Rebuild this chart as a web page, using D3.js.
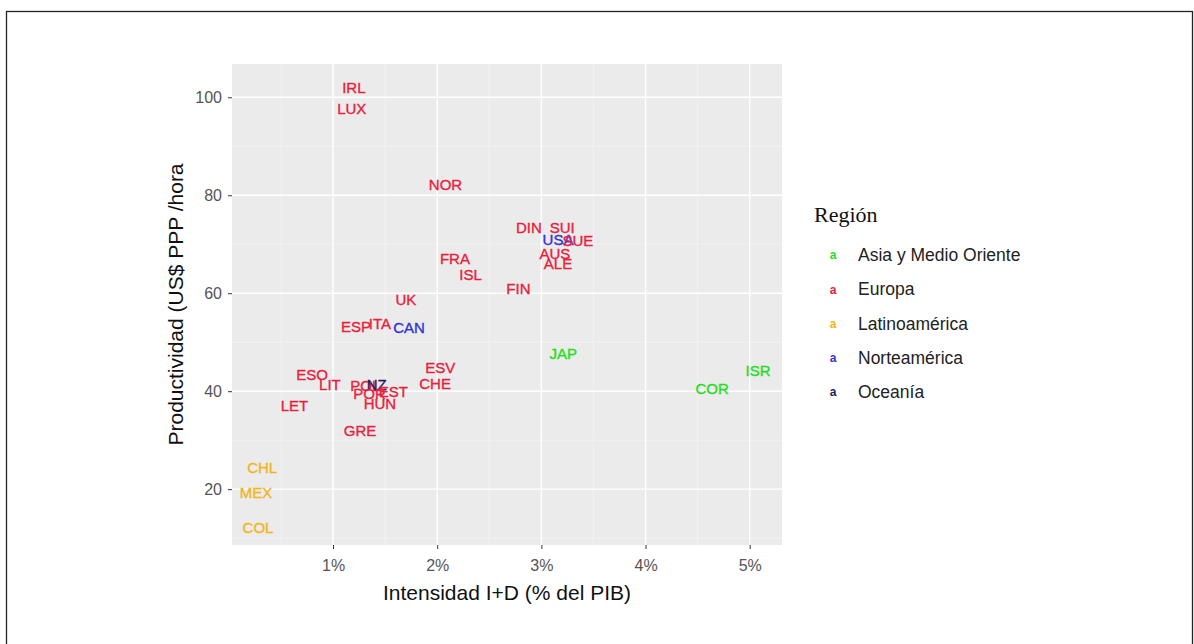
<!DOCTYPE html>
<html><head><meta charset="utf-8">
<script src="https://cdn.jsdelivr.net/npm/d3@7"></script>
<style>body{margin:0;background:#fff}svg{display:block}</style>
</head><body><svg id="c" width="1194" height="644"></svg>
<script>
const countries = ["IRL","LUX","NOR","DIN","SUI","USA","SUE","AUS","ALE","FRA","ISL","FIN","UK","ESP","ITA","CAN","JAP","ISR","COR","ESV","CHE","ESO","LIT","POL","NZ","EST","POR","HUN","LET","GRE","CHL","MEX","COL"];
const intensity = [1.20,1.18,2.08,2.88,3.20,3.16,3.35,3.13,3.16,2.17,2.32,2.78,1.70,1.22,1.45,1.73,3.21,5.08,4.64,2.03,1.98,0.80,0.97,1.31,1.42,1.58,1.35,1.45,0.63,1.26,0.32,0.26,0.28];
const productivity = [102.0,97.6,82.2,73.5,73.3,71.0,70.8,68.0,66.0,67.1,63.9,61.0,58.6,53.1,53.7,52.9,47.6,44.3,40.6,44.9,41.6,43.3,41.4,41.2,41.4,40.0,39.6,37.4,37.1,32.0,24.5,19.2,12.2];
const regionOf = ["Europa","Europa","Europa","Europa","Europa","Norteamérica","Europa","Europa","Europa","Europa","Europa","Europa","Europa","Europa","Europa","Norteamérica","Asia y Medio Oriente","Asia y Medio Oriente","Asia y Medio Oriente","Europa","Europa","Europa","Europa","Europa","Oceanía","Europa","Europa","Europa","Europa","Europa","Latinoamérica","Latinoamérica","Latinoamérica"];
const regions = ["Asia y Medio Oriente","Europa","Latinoamérica","Norteamérica","Oceanía"];
const regionColors = ["#22dd22","#e8203c","#f2b41a","#3232d2","#1c1c5c"];
const xTicks = [1,2,3,4,5];
const yTicks = [20,40,60,80,100];

const svg = d3.select("#c");
const L=232, R=782, T=64, B=545;
const x = d3.scaleLinear().domain([0.03,5.31]).range([L,R]);
const y = d3.scaleLinear().domain([8.6,106.8]).range([B,T]);
const color = d3.scaleOrdinal().domain(regions).range(regionColors);
const SANS = "Liberation Sans, Arial, sans-serif";

// outer frame
svg.append("rect").attr("x",6.5).attr("y",11.5).attr("width",1186).attr("height",640)
  .attr("fill","none").attr("stroke","#222").attr("stroke-width",1.3);

// panel
svg.append("rect").attr("x",L).attr("y",T).attr("width",R-L).attr("height",B-T).attr("fill","#ebebeb");
const g = svg.append("g");
const xMinor = [0.5,1.5,2.5,3.5,4.5];
const yMinor = [10,30,50,70,90];
g.selectAll(".xmin").data(xMinor).join("line").attr("x1",d=>x(d)).attr("x2",d=>x(d)).attr("y1",T).attr("y2",B).attr("stroke","#f5f5f5").attr("stroke-width",0.7);
g.selectAll(".ymin").data(yMinor).join("line").attr("y1",d=>y(d)).attr("y2",d=>y(d)).attr("x1",L).attr("x2",R).attr("stroke","#f5f5f5").attr("stroke-width",0.7);
g.selectAll(".xmaj").data(xTicks).join("line").attr("x1",d=>x(d)).attr("x2",d=>x(d)).attr("y1",T).attr("y2",B).attr("stroke","#fff").attr("stroke-width",1.4);
g.selectAll(".ymaj").data(yTicks).join("line").attr("y1",d=>y(d)).attr("y2",d=>y(d)).attr("x1",L).attr("x2",R).attr("stroke","#fff").attr("stroke-width",1.4);

// axes
const xAxis = svg.append("g").attr("transform",`translate(0,${B})`)
  .call(d3.axisBottom(x).tickValues(xTicks).tickFormat(d=>d+"%").tickSize(4).tickPadding(11));
const yAxis = svg.append("g").attr("transform",`translate(${L},0)`)
  .call(d3.axisLeft(y).tickValues(yTicks).tickSize(4).tickPadding(6));
[xAxis,yAxis].forEach(a=>{
  a.select(".domain").remove();
  a.selectAll(".tick line").attr("stroke","#333");
  a.selectAll(".tick text").attr("fill","#555").style("font-family",SANS).style("font-size","16px");
});

// axis titles
svg.append("text").attr("x",(L+R)/2).attr("y",600).attr("text-anchor","middle")
  .style("font-family",SANS).style("font-size","21px").attr("fill","#111")
  .text("Intensidad I+D (% del PIB)");
svg.append("text").attr("transform",`translate(183,${(T+B)/2}) rotate(-90)`).attr("text-anchor","middle")
  .style("font-family",SANS).style("font-size","21px").attr("fill","#111")
  .text("Productividad (US$ PPP /hora");

// labels
const data = countries.map((c,i)=>({c, x:intensity[i], y:productivity[i], r:regionOf[i]}));
svg.append("g").selectAll("text").data(data).join("text")
  .attr("x",d=>x(d.x)).attr("y",d=>y(d.y)).attr("dy","0.36em").attr("text-anchor","middle")
  .attr("fill",d=>color(d.r)).attr("stroke",d=>color(d.r)).attr("stroke-width",0.35)
  .style("font-family",SANS).style("font-size","15px")
  .text(d=>d.c);

// legend
const lg = svg.append("g");
lg.append("text").attr("x",814).attr("y",222)
  .style("font-family","Liberation Serif, Times New Roman, serif").style("font-size","22px").attr("fill","#111").text("Región");
const items = lg.selectAll(".it").data(regions).join("g").attr("transform",(d,i)=>`translate(0,${255+i*34.3})`);
items.append("text").attr("x",833).attr("dy","0.35em").attr("text-anchor","middle")
  .attr("fill",d=>color(d)).style("font-family",SANS).style("font-size","12px").style("font-weight","bold").text("a");
items.append("text").attr("x",858).attr("dy","0.35em")
  .attr("fill","#222").style("font-family",SANS).style("font-size","17.5px").text(d=>d);
</script></body></html>
